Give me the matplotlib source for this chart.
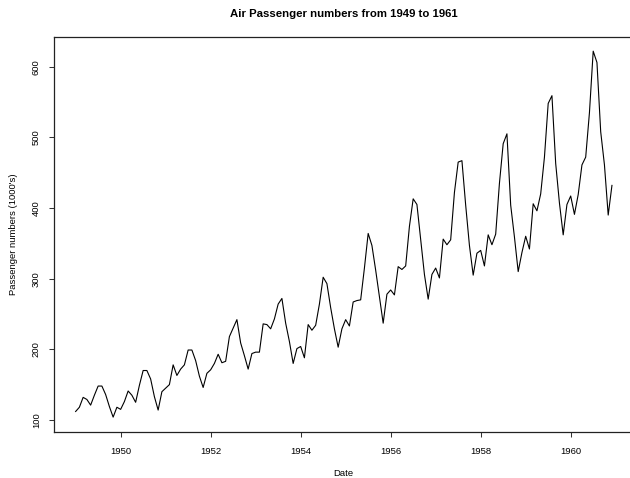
import numpy as np
import matplotlib.pyplot as plt

plt.rcParams['font.family'] = ['Liberation Sans', 'DejaVu Sans']

# monthly totals (1000s), Jan 1949 - Dec 1960
passengers_1949 = [112, 118, 132, 129, 121, 135, 148, 148, 136, 119, 104, 118]
passengers_1950 = [115, 126, 141, 135, 125, 149, 170, 170, 158, 133, 114, 140]
passengers_1951 = [145, 150, 178, 163, 172, 178, 199, 199, 184, 162, 146, 166]
passengers_1952 = [171, 180, 193, 181, 183, 218, 230, 242, 209, 191, 172, 194]
passengers_1953 = [196, 196, 236, 235, 229, 243, 264, 272, 237, 211, 180, 201]
passengers_1954 = [204, 188, 235, 227, 234, 264, 302, 293, 259, 229, 203, 229]
passengers_1955 = [242, 233, 267, 269, 270, 315, 364, 347, 312, 274, 237, 278]
passengers_1956 = [284, 277, 317, 313, 318, 374, 413, 405, 355, 306, 271, 306]
passengers_1957 = [315, 301, 356, 348, 355, 422, 465, 467, 404, 347, 305, 336]
passengers_1958 = [340, 318, 362, 348, 363, 435, 491, 505, 404, 359, 310, 337]
passengers_1959 = [360, 342, 406, 396, 420, 472, 548, 559, 463, 407, 362, 405]
passengers_1960 = [417, 391, 419, 461, 472, 535, 622, 606, 508, 461, 390, 432]

years = list(range(1949, 1961))
x_ticks = [1950, 1952, 1954, 1956, 1958, 1960]
y_ticks = [100, 200, 300, 400, 500, 600]

values = np.array(passengers_1949 + passengers_1950 + passengers_1951 + passengers_1952
                  + passengers_1953 + passengers_1954 + passengers_1955 + passengers_1956
                  + passengers_1957 + passengers_1958 + passengers_1959 + passengers_1960)
t = np.array([y + m / 12 for y in years for m in range(12)])

fig = plt.figure(figsize=(6.3, 4.78), dpi=100)
ax = fig.add_axes([0.086, 0.0967, 0.9194, 0.8269])
ax.plot(t, values, color='black', lw=0.8)

# R style 4% padding on both axes
xpad = (t.max() - t.min()) * 0.04
ypad = (values.max() - values.min()) * 0.04
ax.set_xlim(t.min() - xpad, t.max() + xpad)
ax.set_ylim(values.min() - ypad, values.max() + ypad)

ax.set_xticks(x_ticks)
ax.set_yticks(y_ticks)
ax.tick_params(direction='out', length=3.6, width=0.75, labelsize=6.8, pad=6, color='#333333')
ax.tick_params(axis='x', pad=7.5)
ax.tick_params(axis='y', labelrotation=90)
for lab in ax.get_yticklabels():
    lab.set_va('center')
ax.spines['right'].set_visible(False)
for s in ax.spines.values():
    s.set_linewidth(0.9)
    s.set_color('#222222')

ax.set_title('Air Passenger numbers from 1949 to 1961', fontsize=8.2, fontweight='bold', pad=14)
ax.set_xlabel('Date', fontsize=6.8, labelpad=9)
ax.set_ylabel('Passenger numbers (1000\'s)', fontsize=6.8, labelpad=10)

fig.savefig('out.png', dpi=100)
